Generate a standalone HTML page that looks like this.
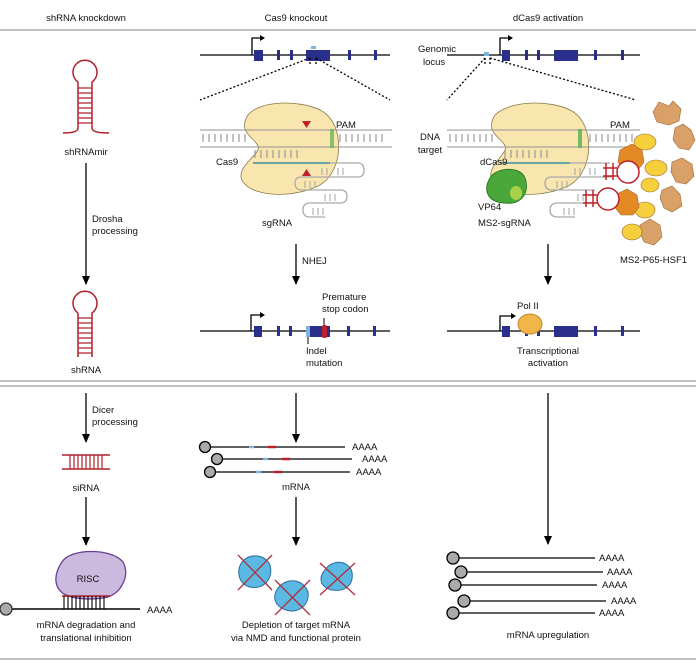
<!DOCTYPE html>
<html><head><meta charset="utf-8"><style>
html,body{margin:0;padding:0;background:#fff;}
svg{display:block;font-family:"Liberation Sans",Arial,sans-serif;}
text{font-size:9.5px;fill:#111;}
</style></head><body>
<svg width="696" height="672" viewBox="0 0 696 672" xmlns="http://www.w3.org/2000/svg">
<defs>
<marker id="ah" markerWidth="9" markerHeight="8" refX="8" refY="4" orient="auto" markerUnits="userSpaceOnUse"><path d="M0,0 L9,4 L0,8 z" fill="#000"/></marker>
<g id="rungs"><path d="M0,0v8M6,0v8M12,0v8M18,0v8M24,0v8M30,0v8M36,0v8M42,0v8" stroke="#999" stroke-width="1.2"/></g>
</defs>
<text x="86" y="21" text-anchor="middle">shRNA knockdown</text>
<text x="296" y="21" text-anchor="middle">Cas9 knockout</text>
<text x="548" y="21" text-anchor="middle">dCas9 activation</text>
<line x1="0" y1="30" x2="696" y2="30" stroke="#aaa" stroke-width="1.5"/>
<line x1="0" y1="381" x2="696" y2="381" stroke="#aaa" stroke-width="1.5"/>
<line x1="0" y1="386" x2="696" y2="386" stroke="#aaa" stroke-width="1.5"/>
<line x1="0" y1="659" x2="696" y2="659" stroke="#aaa" stroke-width="1.5"/>

<g stroke="#b0202a" stroke-width="1.5" fill="none">
<path d="M78,82 A12,12 0 1 1 92,82 L92,128 Q92,133 109,133 M78,82 L78,128 Q78,133 63,133"/>
<path d="M78,88h14M78,93h14M78,98h14M78,103h14M78,108h14M78,113h14M78,118h14M78,123h14" stroke-width="1.2"/>
<path d="M78,313 A12,12 0 1 1 92,313 L92,357 M78,313 L78,357"/>
<path d="M78,318h14M78,323h14M78,328h14M78,333h14M78,338h14M78,343h14M78,348h14M78,353h14" stroke-width="1.2"/>
<path d="M62,455h48M62,469h48"/>
<path d="M70,455v14M74,455v14M78,455v14M82,455v14M86,455v14M90,455v14M94,455v14M98,455v14M102,455v14" stroke-width="1.2"/>
</g>
<text x="86" y="155" text-anchor="middle">shRNAmir</text>
<line x1="86" y1="163" x2="86" y2="284" stroke="#000" stroke-width="1.3" marker-end="url(#ah)"/>
<text x="92" y="222">Drosha</text><text x="92" y="234">processing</text>
<text x="86" y="373" text-anchor="middle">shRNA</text>
<line x1="86" y1="393" x2="86" y2="442" stroke="#000" stroke-width="1.3" marker-end="url(#ah)"/>
<text x="92" y="413">Dicer</text><text x="92" y="425">processing</text>
<text x="86" y="491" text-anchor="middle">siRNA</text>
<line x1="86" y1="497" x2="86" y2="545" stroke="#000" stroke-width="1.3" marker-end="url(#ah)"/>
<path d="M62,562 C70,548 112,548 123,562 C130,575 122,592 108,597 C95,600 75,600 64,594 C52,586 55,572 62,562z" fill="#cbb9de" stroke="#6b3f93" stroke-width="1.3"/>
<text x="88" y="582" text-anchor="middle">RISC</text>
<path d="M62,596h48" stroke="#b0202a" stroke-width="1.5"/>
<path d="M64,596v13M68,596v13M72,596v13M76,596v13M80,596v13M84,596v13M88,596v13M92,596v13M96,596v13M100,596v13M104,596v13" stroke="#000" stroke-width="1.1"/>
<line x1="6" y1="609" x2="140" y2="609" stroke="#000" stroke-width="1.5"/>
<circle cx="6" cy="609" r="6" fill="#aaa" stroke="#333" stroke-width="1.3"/>
<text x="147" y="613">AAAA</text>
<text x="86" y="628" text-anchor="middle">mRNA degradation and</text>
<text x="86" y="641" text-anchor="middle">translational inhibition</text>

<g stroke="#000" stroke-width="1.3" fill="none">
<line x1="200" y1="55" x2="390" y2="55"/>
<path d="M252,55 V38 H262"/>
<line x1="447" y1="55" x2="640" y2="55"/>
<path d="M500,55 V38 H510"/>
<line x1="200" y1="331" x2="390" y2="331"/>
<path d="M251,331 V315 H262"/>
<line x1="447" y1="331" x2="640" y2="331"/>
<path d="M500,331 V316 H512"/>
</g>
<path d="M260,35l5,3l-5,3z M508,35l5,3l-5,3z M260,312l5,3l-5,3z M511,313l5,3l-5,3z" fill="#000"/>
<g fill="#2b2f8c">
<rect x="254" y="50" width="9" height="11"/><rect x="277" y="50" width="3" height="10"/><rect x="290" y="50" width="3" height="10"/><rect x="306" y="50" width="24" height="11"/><rect x="348" y="50" width="3" height="10"/><rect x="374" y="50" width="3" height="10"/>
<rect x="502" y="50" width="8" height="11"/><rect x="525" y="50" width="3" height="10"/><rect x="537" y="50" width="3" height="10"/><rect x="554" y="50" width="24" height="11"/><rect x="594" y="50" width="3" height="10"/><rect x="621" y="50" width="3" height="10"/>
<rect x="254" y="326" width="8" height="11"/><rect x="277" y="326" width="3" height="10"/><rect x="289" y="326" width="3" height="10"/><rect x="306" y="326" width="24" height="11"/><rect x="347" y="326" width="3" height="10"/><rect x="373" y="326" width="3" height="10"/>
<rect x="502" y="326" width="8" height="11"/><rect x="525" y="326" width="3" height="10"/><rect x="537" y="326" width="3" height="10"/><rect x="554" y="326" width="24" height="11"/><rect x="594" y="326" width="3" height="10"/><rect x="621" y="326" width="3" height="10"/>
</g>
<rect x="311" y="46" width="5" height="3" fill="#7fb6e0"/>
<rect x="484" y="52" width="5" height="4" fill="#7fb6e0"/>
<rect x="306" y="326" width="4" height="11" fill="#7fb6e0"/>
<rect x="322" y="325" width="5" height="13" rx="2" fill="#c0202a"/>
<line x1="324" y1="318" x2="324" y2="325" stroke="#000"/>
<line x1="308" y1="337" x2="308" y2="344" stroke="#000"/>
<text x="418" y="52">Genomic</text><text x="423" y="65">locus</text>
<g stroke="#000" stroke-width="1.3" stroke-dasharray="2,2" fill="none">
<path d="M310,58 L200,100 M316,58 L390,100 M310,58v6 M316,58v6"/>
<path d="M485,58 L447,100 M490,58 L636,100 M485,58v6 M490,58v6"/>
</g>
<!-- blobs -->
<path d="M248,115 C260,100 300,100 320,110 C345,122 345,170 320,185 C295,198 255,198 243,182 C235,170 252,160 258,150 C262,140 235,135 248,115z" fill="#f8e6ae" stroke="#8a7a4a" stroke-width="0.8"/>
<path d="M495,115 C510,100 550,100 570,110 C595,122 595,170 570,185 C545,198 505,198 493,182 C485,170 500,160 505,150 C509,140 482,135 495,115z" fill="#f8e6ae" stroke="#8a7a4a" stroke-width="0.8"/>
<g stroke="#999" stroke-width="1.3" opacity="0.85"><line x1="200" y1="130" x2="392" y2="130"/><line x1="200" y1="147" x2="392" y2="147"/>
<line x1="447" y1="130" x2="640" y2="130"/><line x1="447" y1="147" x2="640" y2="147"/></g>
<use href="#rungs" x="203" y="134"/><use href="#rungs" x="340" y="134"/>
<use href="#rungs" x="450" y="134"/><use href="#rungs" x="590" y="134"/>
<rect x="330" y="129" width="4" height="19" fill="#58b04a" opacity="0.7"/>
<rect x="578" y="129" width="4" height="19" fill="#58b04a" opacity="0.8"/>
<use href="#rungs" x="255" y="150"/><use href="#rungs" x="505" y="150"/>
<line x1="253" y1="163" x2="330" y2="163" stroke="#3a8fa0" stroke-width="1.5"/>
<line x1="500" y1="163" x2="570" y2="163" stroke="#3a8fa0" stroke-width="1.5"/>
<path d="M302,121h9l-4.5,7z M302,176h9l-4.5,-7z" fill="#c0202a"/>
<g stroke="#aaa" stroke-width="1.3" fill="none">
<path d="M330,163 H358 Q364,163 364,170 Q364,177 358,177 H302 Q295,177 295,183 Q295,190 302,190 H340 Q347,190 347,196 Q347,203 340,203 H310 Q303,203 303,210 Q303,217 310,217 H325"/>
<path d="M570,163 H610 M612,177 H552 Q545,177 545,183 Q545,190 552,190 H595 M592,203 H558 Q550,203 550,210 Q550,217 558,217 H575"/>
</g>
<path d="M322,168v7M327,168v7M338,168v7M343,168v7M305,181v7M310,181v7M315,181v7M325,194v7M330,194v7M335,194v7M313,208v7M318,208v7M323,208v7" stroke="#aaa" stroke-width="1.1"/>
<path d="M575,168v7M580,168v7M590,168v7M595,168v7M557,181v7M562,181v7M567,181v7M578,194v7M583,194v7M564,208v7M569,208v7M574,208v7" stroke="#aaa" stroke-width="1.1"/>
<text x="216" y="165">Cas9</text><text x="336" y="128">PAM</text>
<text x="430" y="140" text-anchor="middle">DNA</text><text x="430" y="153" text-anchor="middle">target</text>
<text x="262" y="226">sgRNA</text>
<line x1="296" y1="244" x2="296" y2="284" stroke="#000" stroke-width="1.3" marker-end="url(#ah)"/>
<text x="302" y="264">NHEJ</text>
<text x="322" y="300">Premature</text><text x="322" y="312">stop codon</text>
<text x="306" y="354">Indel</text><text x="306" y="366">mutation</text>

<!-- dCas9 extras -->
<path d="M490,178 C495,168 520,165 525,178 C530,192 522,205 505,203 C485,202 484,188 490,178z" fill="#4aa83a" stroke="#2f7a25"/>
<ellipse cx="516" cy="193" rx="6" ry="7" fill="#a8d048"/>
<!-- MS2-P65-HSF1 cluster -->
<g stroke="#a06a30" stroke-width="0.6">
<path d="M653,112 l6,-10 l10,4 l4,-5 l8,8 l-2,12 l-10,4 l-12,-3z" fill="#d9a068"/>
<path d="M675,128 l8,-4 l8,6 l4,10 l-6,10 l-10,-2 l-6,-8z" fill="#d9a068"/>
<path d="M672,162 l10,-4 l10,6 l2,12 l-8,8 l-10,-2 l-5,-10z" fill="#d9a068"/>
<path d="M662,190 l10,-4 l8,8 l2,12 l-10,6 l-8,-4 l-4,-10z" fill="#d9a068"/>
<path d="M640,225 l10,-6 l10,6 l2,12 l-8,8 l-10,-3 l-4,-9z" fill="#d9a068"/>
<ellipse cx="645" cy="142" rx="11" ry="8" fill="#f6cf3c"/>
<ellipse cx="656" cy="168" rx="11" ry="8" fill="#f6cf3c"/>
<ellipse cx="645" cy="210" rx="10" ry="8" fill="#f6cf3c"/>
<ellipse cx="650" cy="185" rx="9" ry="7" fill="#f6cf3c"/>
<ellipse cx="632" cy="232" rx="10" ry="8" fill="#f6cf3c"/>
<path d="M620,150 l12,-6 l10,6 l2,12 l-6,8 l-12,2 l-8,-10z" fill="#e38a25"/>
<path d="M615,195 l12,-6 l10,6 l2,12 l-6,8 l-12,0 l-8,-10z" fill="#e38a25"/>
</g>
<g stroke="#c0202a" stroke-width="1.5" fill="none">
<path d="M603,168 H617 M603,176 H617 M606,163 v17 M613,163 v17"/>
<circle cx="628" cy="172" r="11" fill="#fff"/>
<path d="M583,195 H597 M583,203 H597 M586,190 v17 M593,190 v17"/>
<circle cx="608" cy="199" r="11" fill="#fff"/>
</g>
<text x="480" y="165">dCas9</text><text x="610" y="128">PAM</text>
<text x="478" y="210">VP64</text><text x="478" y="226">MS2-sgRNA</text>
<text x="620" y="263">MS2-P65-HSF1</text>
<line x1="548" y1="244" x2="548" y2="284" stroke="#000" stroke-width="1.3" marker-end="url(#ah)"/>
<ellipse cx="530" cy="324" rx="12" ry="10" fill="#f1b64a" stroke="#c8882a"/>
<text x="517" y="309">Pol II</text>
<text x="548" y="354" text-anchor="middle">Transcriptional</text><text x="548" y="366" text-anchor="middle">activation</text>

<!-- Cas9 lower -->
<line x1="296" y1="393" x2="296" y2="442" stroke="#000" stroke-width="1.3" marker-end="url(#ah)"/>
<g stroke="#000" stroke-width="1.3"><line x1="205" y1="447" x2="345" y2="447"/><line x1="217" y1="459" x2="352" y2="459"/><line x1="210" y1="472" x2="350" y2="472"/></g>
<g stroke="#000" stroke-width="1.3" fill="#aaa"><circle cx="205" cy="447" r="5.5"/><circle cx="217" cy="459" r="5.5"/><circle cx="210" cy="472" r="5.5"/></g>
<g stroke-width="2.5"><line x1="249" y1="447" x2="254" y2="447" stroke="#7fb6e0"/><line x1="268" y1="447" x2="276" y2="447" stroke="#c0202a"/>
<line x1="263" y1="459" x2="268" y2="459" stroke="#7fb6e0"/><line x1="282" y1="459" x2="290" y2="459" stroke="#c0202a"/>
<line x1="256" y1="472" x2="261" y2="472" stroke="#7fb6e0"/><line x1="274" y1="472" x2="282" y2="472" stroke="#c0202a"/></g>
<text x="352" y="450">AAAA</text><text x="362" y="462">AAAA</text><text x="356" y="475">AAAA</text>
<text x="296" y="490" text-anchor="middle">mRNA</text>
<line x1="296" y1="497" x2="296" y2="545" stroke="#000" stroke-width="1.3" marker-end="url(#ah)"/>
<g fill="#5bb8e3" stroke="#2a6a9a" stroke-width="1">
<path d="M242,562 C250,552 266,555 270,565 C274,580 262,590 250,587 C238,584 236,570 242,562z"/>
<path d="M278,588 C288,576 304,580 308,592 C310,605 298,614 286,610 C274,606 272,596 278,588z"/>
<path d="M325,570 C333,558 349,561 352,572 C354,586 344,592 332,590 C320,587 318,578 325,570z"/>
</g>
<g stroke="#b0303a" stroke-width="1.3"><path d="M238,555 L272,590 M272,555 L238,590 M275,580 L310,615 M310,580 L275,615 M320,563 L355,595 M355,563 L320,595"/></g>
<text x="296" y="628" text-anchor="middle">Depletion of target mRNA</text>
<text x="296" y="641" text-anchor="middle">via NMD and functional protein</text>

<!-- dCas9 lower -->
<line x1="548" y1="393" x2="548" y2="544" stroke="#000" stroke-width="1.3" marker-end="url(#ah)"/>
<g stroke="#000" stroke-width="1.3"><line x1="453" y1="558" x2="595" y2="558"/><line x1="461" y1="572" x2="603" y2="572"/><line x1="455" y1="585" x2="597" y2="585"/><line x1="464" y1="601" x2="606" y2="601"/><line x1="453" y1="613" x2="595" y2="613"/></g>
<g stroke="#000" stroke-width="1.3" fill="#aaa"><circle cx="453" cy="558" r="6"/><circle cx="461" cy="572" r="6"/><circle cx="455" cy="585" r="6"/><circle cx="464" cy="601" r="6"/><circle cx="453" cy="613" r="6"/></g>
<text x="599" y="561">AAAA</text><text x="607" y="575">AAAA</text><text x="602" y="588">AAAA</text><text x="611" y="604">AAAA</text><text x="599" y="616">AAAA</text>
<text x="548" y="638" text-anchor="middle">mRNA upregulation</text>
</svg>
</body></html>
